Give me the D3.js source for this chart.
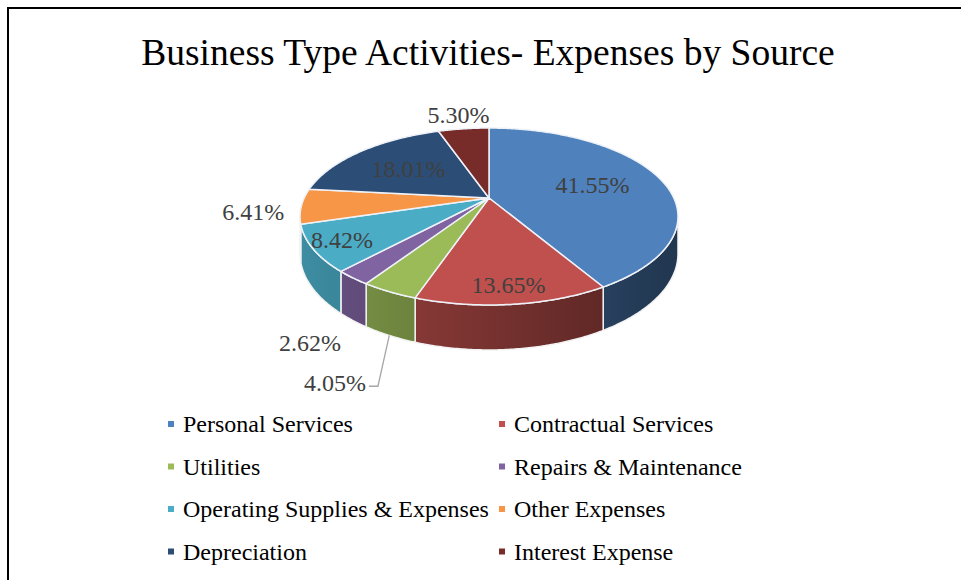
<!DOCTYPE html>
<html>
<head>
    <title>Business Type Activities- Expenses by Source</title>
    <script src="https://d3js.org/d3.v7.min.js"></script>
    <style>
        body { margin: 0; background: #fff; }
        text { font-family: "Liberation Serif", "Times New Roman", serif; }
        .title { font-size: 37.5px; fill: #000; }
        .pct { font-size: 24px; fill: #404040; }
        .legend { font-size: 24px; fill: #000; }
    </style>
</head>
<body>
    <svg width="961" height="580"></svg>
    <script>
        // data
        var categories = ["Personal Services", "Contractual Services", "Utilities", "Repairs & Maintenance",
                          "Operating Supplies & Expenses", "Other Expenses", "Depreciation", "Interest Expense"];
        var values = [41.55, 13.65, 4.05, 2.62, 8.42, 6.41, 18.01, 5.30];
        var colors = ["#4F81BD", "#C0504D", "#9BBB59", "#8064A2", "#4BACC6", "#F79646", "#2C4D75", "#772C2A"];

        var svg = d3.select("svg");

        // frame
        svg.append("rect")
           .attr("x", 8).attr("y", 8)
           .attr("width", 980).attr("height", 600)
           .attr("fill", "none").attr("stroke", "#000").attr("stroke-width", 2);

        svg.append("text")
           .attr("class", "title")
           .attr("x", 488).attr("y", 65)
           .attr("text-anchor", "middle")
           .text("Business Type Activities- Expenses by Source");

        // perspective pie: centre, half axes, tilt and wall height
        var cx = 489, cy = 198, A = 184.8, B = 84.6, k = 0.209, h = 35.6;

        function project(a, r) {
            var u = Math.sin(a) * r, v = -Math.cos(a) * r;
            var w = 1 - k * v;
            return [cx + A * u / w, cy + B * v / w];
        }
        function drop(a) {
            return h / (1 - k * (-Math.cos(a)));
        }

        var pie = d3.pie().sort(null).value(function(d) { return d; });
        var arcs = pie(values);
        var line = d3.line();
        var fmt = function(v) { return d3.format(".2f")(v) + "%"; };

        function arcPoints(a0, a1, r) {
            var n = Math.max(2, Math.ceil((a1 - a0) / 0.01));
            return d3.range(n + 1).map(function(i) { return project(a0 + (a1 - a0) * i / n, r); });
        }

        var defs = svg.append("defs");
        var wallLo = Math.acos(-k), wallHi = 2 * Math.PI - Math.acos(-k);
        var xl = project(wallHi, 1)[0], xr = project(wallLo, 1)[0];

        // side walls
        arcs.forEach(function(d, i) {
            var a0 = Math.max(d.startAngle, wallLo), a1 = Math.min(d.endAngle, wallHi);
            if (a1 <= a0) return;
            var c = d3.rgb(colors[i]);
            var g = defs.append("linearGradient")
                        .attr("id", "wall" + i)
                        .attr("gradientUnits", "userSpaceOnUse")
                        .attr("x1", xl).attr("x2", xr).attr("y1", 0).attr("y2", 0);
            [[0, 0.82], [1, 0.42]].forEach(function(s) {
                g.append("stop").attr("offset", s[0])
                 .attr("stop-color", d3.rgb(c.r * s[1], c.g * s[1], c.b * s[1]).formatHex());
            });
            var top = arcPoints(a0, a1, 1);
            var n = top.length - 1;
            var bottom = top.map(function(p, j) {
                var a = a0 + (a1 - a0) * j / n;
                return [p[0], p[1] + drop(a)];
            }).reverse();
            svg.append("path")
               .attr("d", line(top.concat(bottom)) + "Z")
               .attr("fill", "url(#wall" + i + ")")
               .attr("stroke", "#f2f2f2").attr("stroke-width", 1.5)
               .attr("stroke-linejoin", "round");
        });

        // top faces
        arcs.forEach(function(d, i) {
            var pts = [project(0, 0)].concat(arcPoints(d.startAngle, d.endAngle, 1));
            svg.append("path")
               .attr("d", line(pts) + "Z")
               .attr("fill", colors[i])
               .attr("stroke", "#eef2f8").attr("stroke-width", 1.5)
               .attr("stroke-linejoin", "round");
        });

        // data labels: big slices inside, small ones outside
        var placed = [];
        arcs.slice().reverse().forEach(function(d) {
            var i = d.index;
            var mid = (d.startAngle + d.endAngle) / 2;
            var v = -Math.cos(mid);
            var txt = svg.append("text").attr("class", "pct")
                         .attr("text-anchor", "middle").attr("dominant-baseline", "central")
                         .text(fmt(values[i]));
            var tw = txt.node().getComputedTextLength();
            var p, leader = false;
            if (values[i] >= 7) {
                p = project(mid, v > 0 ? 0.85 : 0.6);
            } else {
                p = project(mid, 1.25);
                p[1] += drop(mid) * Math.min(1, 1.2 * Math.max(0, v));
                placed.forEach(function(q) {
                    if (Math.abs(q[1] - p[1]) < 26 && Math.abs(q[0] - p[0]) < (tw + q[2]) / 2) {
                        p = [q[0] + 25, q[1] + 40];
                        leader = true;
                    }
                });
                placed.push([p[0], p[1], tw]);
            }
            txt.attr("x", p[0]).attr("y", p[1]);
            if (leader) {
                var s = project(mid, 1);
                s[1] += drop(mid);
                var ex = p[0] + tw / 2;
                svg.append("path")
                   .attr("d", line([s, [ex + 12, p[1] + 3], [ex + 3, p[1] + 3]]))
                   .attr("fill", "none").attr("stroke", "#a6a6a6").attr("stroke-width", 1.3);
            }
        });

        // legend
        var legend = svg.append("g");
        categories.forEach(function(name, i) {
            var col = i % 2, row = Math.floor(i / 2);
            var lx = col === 0 ? 168 : 499, ly = 424 + row * 42.5;
            legend.append("rect")
                  .attr("x", lx).attr("y", ly - 3)
                  .attr("width", 6).attr("height", 6)
                  .attr("fill", colors[i]);
            legend.append("text")
                  .attr("class", "legend")
                  .attr("x", lx + 15).attr("y", ly)
                  .attr("dominant-baseline", "central")
                  .text(name);
        });
    </script>
</body>
</html>
